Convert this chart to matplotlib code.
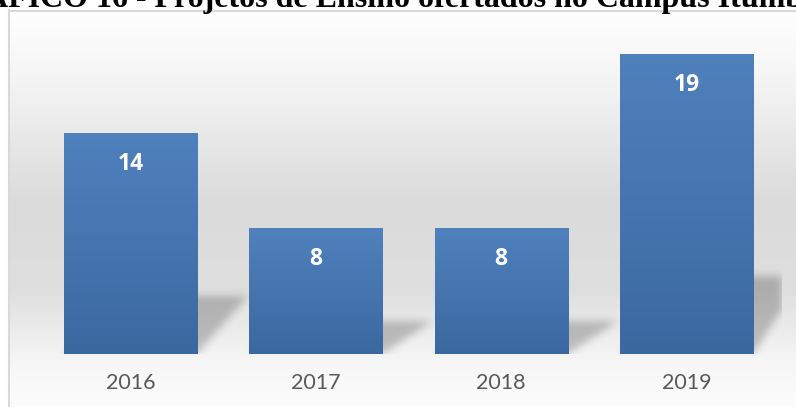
import numpy as np
import matplotlib.pyplot as plt

anos = ['2016', '2017', '2018', '2019']
projetos = [14, 8, 8, 19]
titulo = 'GRÁFICO 16 - Projetos de Ensino ofertados no Campus Itumbiara'

W, H = 796, 407
fig = plt.figure(figsize=(W / 100, H / 100), dpi=100)

# fundo com degradê vertical e moldura cinza
bg = fig.add_axes([0, 0, 1, 1], zorder=0)
yy = np.arange(H)
stops_y = [0, 10, 60, 110, 200, 290, 330, 365, 407]
stops_v = [255, 254, 248, 238, 219, 222, 236, 247, 252]
col = np.interp(yy, stops_y, stops_v) / 255
img = np.repeat(col[:, None], W, axis=1)
img[:10, :] = 1
img[:, :8] = 1
bg.imshow(np.dstack([img] * 3), extent=(0, W, H, 0), aspect='auto')
bg.plot([8.5, 8.5], [10, H], color='#d9d9d9', lw=1.5)
bg.plot([8.5, W], [10.5, 10.5], color='#d9d9d9', lw=1.5)
bg.set_xlim(0, W)
bg.set_ylim(H, 0)
bg.axis('off')

ax_l, ax_r, ax_b, ax_h = 37.8, 781, 354, 316
ax = fig.add_axes([ax_l / W, (H - ax_b) / H, (ax_r - ax_l) / W, ax_h / H], zorder=1)
ax.patch.set_alpha(0)
xmin, xmax, ymax = -0.5, 3.51, 20

x = np.arange(len(anos))
bars = ax.bar(x, projetos, width=0.718, color='none', zorder=3)

# sombra em perspectiva (máscara borrada)
nx, ny = int(ax_r - ax_l), ax_h
gx = np.linspace(xmin, xmax, nx)[None, :]
gy = np.linspace(ymax, 0, ny)[:, None]
mask = np.zeros((ny, nx))
dx, k = 0.27, 0.26
for rect in bars:
    l = rect.get_x()
    r = l + rect.get_width()
    sh = k * rect.get_height()
    off = dx * gy / sh
    dentro = (gy >= 0) & (gy <= sh) & (gx >= l + off) & (gx <= r + off)
    mask[dentro] = 1
ker = np.exp(-0.5 * (np.arange(-12, 13) / 4.0) ** 2)
ker /= ker.sum()
mask = np.apply_along_axis(lambda v: np.convolve(v, ker, mode='same'), 1, mask)
mask = np.apply_along_axis(lambda v: np.convolve(v, ker, mode='same'), 0, mask)
sombra = np.zeros((ny, nx, 4))
sombra[..., 3] = 0.22 * mask
ax.imshow(sombra, extent=(xmin, xmax, 0, ymax), aspect='auto', zorder=2)

topo = np.array([79, 129, 189]) / 255
base = np.array([60, 104, 160]) / 255
t = np.linspace(0, 1, 100)[:, None, None]
grad = topo * (1 - t) + base * t

for rect, v in zip(bars, projetos):
    l = rect.get_x()
    r = l + rect.get_width()
    h = rect.get_height()
    im = ax.imshow(grad, extent=(l, r, 0, h), aspect='auto', zorder=3)
    im.set_clip_path(rect)
    ax.annotate(str(v), (l + rect.get_width() / 2, h),
                xytext=(0, -22.3), textcoords='offset points',
                ha='center', va='center', color='white', fontweight='bold',
                fontsize=16.5, family=['Open Sans', 'DejaVu Sans'], zorder=4)

ax.set_xlim(xmin, xmax)
ax.set_ylim(0, ymax)
ax.set_xticks(x, anos)
ax.set_yticks([])
ax.tick_params(length=0, pad=14, labelsize=15.5, labelcolor='#595959')
for lab in ax.get_xticklabels():
    lab.set_family(['Lato', 'DejaVu Sans'])
for s in ax.spines.values():
    s.set_visible(False)

fig.text(0.5, 1 - 6.5 / H, titulo, ha='center', va='baseline', fontsize=23,
         fontweight='bold', family='Liberation Serif')

fig.savefig('out.png', dpi=100)
